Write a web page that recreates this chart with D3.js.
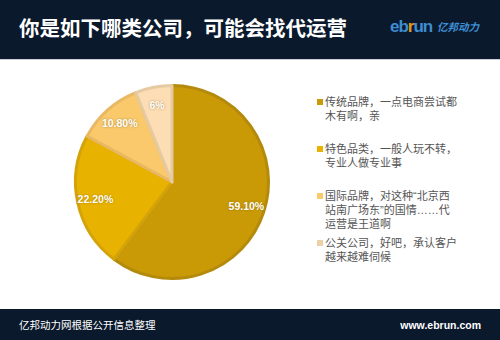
<!DOCTYPE html>
<html><head><meta charset="utf-8">
<script src="https://cdn.jsdelivr.net/npm/d3@7/dist/d3.min.js"></script>
<style>html,body{margin:0;padding:0;background:#fff;}svg{display:block;}</style>
</head><body>
<script>
const title = "你是如下哪类公司，可能会找代运营";
const categories = [
  ["传统品牌，一点电商尝试都", "木有啊，亲"],
  ["特色品类，一般人玩不转，", "专业人做专业事"],
  ["国际品牌，对这种“北京西", "站南广场东”的国情……代", "运营是王道啊"],
  ["公关公司，好吧，承认客户", "越来越难伺候"]
];
const values = [59.1, 22.2, 10.8, 6];
const valueLabels = ["59.10%", "22.20%", "10.80%", "6%"];
const fills = ["#C99A06", "#E8B200", "#F9C96C", "#FCDDB4"];
const strokes = ["#B48A0C", "#D4A30A", "#E9B862", "#E6CAA2"];
const footerLeft = "亿邦动力网根据公开信息整理";
const footerRight = "www.ebrun.com";

const W = 500, H = 340;
const svg = d3.select("body").append("svg").attr("width", W).attr("height", H);
const cjk = "'Noto Sans CJK SC', 'Noto Sans', sans-serif";
const legendFont = "'Liberation Sans', 'Noto Sans CJK SC', sans-serif";

// header
svg.append("rect").attr("x",0).attr("y",0).attr("width",W).attr("height",59).attr("fill","#0B192D");
svg.append("rect").attr("x",0).attr("y",59).attr("width",W).attr("height",1).attr("fill","#C9D0D6");
svg.append("text").attr("x",19).attr("y",36).attr("fill","#fff")
  .attr("font-family",cjk).attr("font-weight","bold").attr("font-size",20.5).text(title);
// logo
const logo = svg.append("text").attr("x",390).attr("y",32).attr("font-family","'Liberation Sans', Arial, sans-serif")
  .attr("font-weight","bold").attr("font-size",17).attr("letter-spacing",-1);
logo.append("tspan").attr("fill","#3D8ED3").text("eb");
logo.append("tspan").attr("fill","#E39A1B").text("r");
logo.append("tspan").attr("fill","#3D8ED3").text("un");
svg.append("text").attr("x",437).attr("y",31).attr("fill","#3D8ED3").attr("font-family",cjk)
  .attr("font-weight","bold").attr("font-size",10.5).attr("font-style","italic").text("亿邦动力");

// footer
svg.append("rect").attr("x",0).attr("y",309).attr("width",W).attr("height",31).attr("fill","#0B192D");
svg.append("text").attr("x",19).attr("y",329).attr("fill","#fff").attr("font-family",cjk)
  .attr("font-size",10.5).text(footerLeft);
svg.append("text").attr("x",481).attr("y",329).attr("fill","#fff").attr("text-anchor","end")
  .attr("font-family","'Liberation Sans', Arial, sans-serif").attr("font-weight","bold").attr("font-size",10.5).text(footerRight);

// pie
const cx = 172, cy = 182, r = 98;
const pie = d3.pie().sort(null).value(d => d);
const arcs = pie(values);
const arc = d3.arc().innerRadius(0).outerRadius(r - 1.5);
const labelArc = d3.arc().innerRadius(r*0.8).outerRadius(r*0.8);
const g = svg.append("g").attr("transform",`translate(${cx},${cy})`);
g.selectAll("path.slice").data(arcs).enter().append("path").attr("class","slice")
  .attr("d", arc).attr("fill",(d,i)=>fills[i]).attr("stroke",(d,i)=>strokes[i])
  .attr("stroke-width",3).attr("stroke-linejoin","round");
g.selectAll("text.lbl").data(arcs).enter().append("text").attr("class","lbl")
  .attr("transform", d => `translate(${labelArc.centroid(d)})`)
  .attr("text-anchor","middle").attr("dy","0.35em")
  .attr("fill","#fff").attr("font-family","'Liberation Sans', Arial, sans-serif")
  .attr("font-weight","bold").attr("font-size",10.5)
  .style("text-shadow","0 0 2px rgba(120,80,0,0.6)")
  .text((d,i)=>valueLabels[i]);

// legend
const legendY = [102, 149, 196, 243];
const lg = svg.append("g");
categories.forEach((lines, i) => {
  lg.append("rect").attr("x",317).attr("y",legendY[i]-3).attr("width",6).attr("height",6).attr("fill",fills[i] === "#FCDDB4" ? "#EDCFA8" : fills[i]);
  const t = lg.append("text").attr("x",325).attr("y",legendY[i] + 4).attr("fill","#555")
      .attr("font-family",legendFont).attr("font-size",11);
  lines.forEach((s, j) => {
    t.append("tspan").attr("x",325).attr("dy", j === 0 ? 0 : 14).text(s);
  });
});
</script>
</body></html>
